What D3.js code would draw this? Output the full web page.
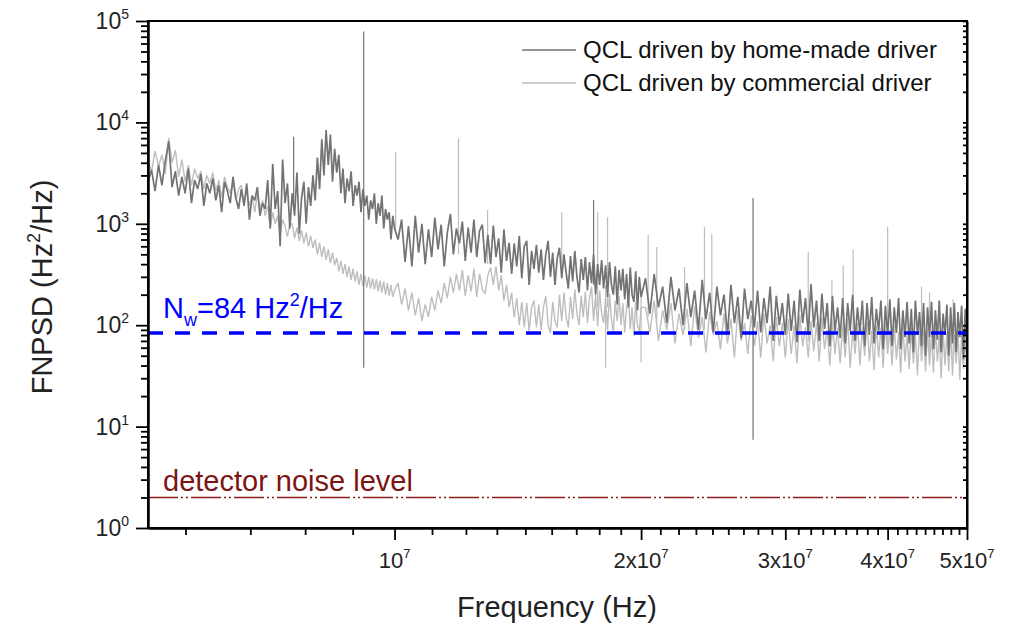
<!DOCTYPE html>
<html>
<head>
<meta charset="utf-8">
<script src="https://cdn.jsdelivr.net/npm/d3@7"></script>
<style>
  body { margin: 0; background: #fff; }
  text { font-family: "Liberation Sans", Arial, sans-serif; }
</style>
</head>
<body>
<svg id="chart" width="1009" height="628"></svg>
<script>
// ---- data ----------------------------------------------------------------
// sampling grid of the spectra (MHz)
var freqMHz = [
  5,5.05,5.1,5.15,5.2,5.25,5.3,5.35,5.4,5.45,
  5.5,5.55,5.6,5.65,5.7,5.75,5.8,5.85,5.9,5.95,
  6,6.05,6.1,6.15,6.2,6.25,6.3,6.35,6.4,6.45,
  6.5,6.55,6.6,6.65,6.7,6.75,6.8,6.85,6.9,6.95,
  7,7.05,7.1,7.15,7.2,7.25,7.3,7.35,7.4,7.45,
  7.5,7.55,7.6,7.65,7.7,7.75,7.8,7.85,7.9,7.95,
  8,8.05,8.1,8.15,8.2,8.25,8.3,8.35,8.4,8.45,
  8.5,8.55,8.6,8.65,8.7,8.75,8.8,8.85,8.9,8.95,
  9,9.05,9.1,9.15,9.2,9.25,9.3,9.35,9.4,9.45,
  9.5,9.55,9.6,9.65,9.7,9.75,9.8,9.85,9.9,9.95,
  10,
  10.1,10.2,10.3,10.4,10.5,10.6,10.7,10.8,10.9,
  11,11.1,11.2,11.3,11.4,11.5,11.6,11.7,11.8,11.9,
  12,12.1,12.2,12.3,12.4,12.5,12.6,12.7,12.8,12.9,
  13,13.1,13.2,13.3,13.4,13.5,13.6,13.7,13.8,13.9,
  14,14.1,14.2,14.3,14.4,14.5,14.6,14.7,14.8,14.9,
  15,15.1,15.2,15.3,15.4,15.5,15.6,15.7,15.8,15.9,
  16,16.1,16.2,16.3,16.4,16.5,16.6,16.7,16.8,16.9,
  17,17.1,17.2,17.3,17.4,17.5,17.6,17.7,17.8,17.9,
  18,18.1,18.2,18.3,18.4,18.5,18.6,18.7,18.8,18.9,
  19,19.1,19.2,19.3,19.4,19.5,19.6,19.7,19.8,19.9,
  20,
  20.25,20.5,20.75,21,21.25,21.5,21.75,22,22.25,22.5,
  22.75,23,23.25,23.5,23.75,24,24.25,24.5,24.75,25,
  25.25,25.5,25.75,26,26.25,26.5,26.75,27,27.25,27.5,
  27.75,28,28.25,28.5,28.75,29,29.25,29.5,29.75,30,
  30.25,30.5,30.75,31,31.25,31.5,31.75,32,32.25,32.5,
  32.75,33,33.25,33.5,33.75,34,34.25,34.5,34.75,35,
  35.25,35.5,35.75,36,36.25,36.5,36.75,37,37.25,37.5,
  37.75,38,38.25,38.5,38.75,39,39.25,39.5,39.75,40,
  40.25,40.5,40.75,41,41.25,41.5,41.75,42,42.25,42.5,
  42.75,43,43.25,43.5,43.75,44,44.25,44.5,44.75,45,
  45.25,45.5,45.75,46,46.25,46.5,46.75,47,47.25,47.5,
  47.75,48,48.25,48.5,48.75,49,49.25,49.5,49.75,50
];

// FNPSD, QCL driven by home-made driver (Hz^2/Hz)
var psdHomeMade = [
  2600,3400,2100,3800,2400,4200,6500,2300,3300,1900,
  2900,2000,3500,1600,2700,2200,3100,1500,2500,2000,
  2800,1700,2400,1300,2600,2100,1600,2900,1800,1400,
  2200,1500,2500,1100,1900,1700,2300,1200,1600,1400,
  2700,900,3900,1400,2100,600,4300,1600,2500,900,
  2000,1200,3200,800,1800,2600,1000,2300,1500,3000,
  1700,4500,2200,6800,3000,8400,3800,7600,2600,5500,
  3200,4800,2000,3500,1600,2800,2100,3300,1500,2400,
  1900,2600,1300,2200,1500,1900,1100,1700,1400,2000,
  1000,1600,1200,1900,900,1400,1100,1300,700,1200,
  900,
  700,1100,420,950,380,1200,520,1000,400,
  880,470,1150,560,980,380,820,1250,500,900,
  640,1050,430,920,520,1100,470,850,980,410,
  780,400,960,470,720,330,880,430,650,320,
  640,380,760,290,600,680,250,540,360,620,
  330,560,280,500,680,300,520,250,460,580,
  290,500,330,230,480,270,540,300,210,450,
  280,470,220,420,260,500,200,400,250,440,
  230,390,190,420,250,200,380,160,350,220,
  360,180,320,150,370,200,170,340,140,300,
  190,
  290,130,320,150,240,105,300,140,230,100,
  260,120,220,90,280,115,210,85,240,125,
  200,80,250,105,190,75,230,115,175,95,
  220,85,185,105,240,70,195,100,165,80,
  205,88,175,68,225,105,185,80,255,95,
  175,70,205,92,165,62,195,88,150,75,
  185,66,165,88,200,70,150,84,175,62,
  165,80,190,66,145,88,175,58,155,80,
  180,62,150,84,185,58,140,76,170,66,
  145,54,175,80,135,62,165,50,150,76,
  170,58,140,72,175,54,130,80,160,50,
  150,66,165,54,135,76,155,46,145,62
];

// FNPSD, QCL driven by commercial driver (Hz^2/Hz)
var psdCommercial = [
  4200,3300,5200,3700,4800,3100,7000,4000,5300,2900,
  4300,2600,3800,2400,3500,2800,3300,2200,3000,2500,
  3200,2100,2700,1800,2900,2300,2000,2600,1700,2200,
  2400,1600,2100,1500,1900,1300,2000,1400,1700,1200,
  1500,900,1300,1000,1200,800,1100,950,750,1000,
  1000,720,920,680,860,640,820,600,760,580,
  700,500,650,470,600,440,560,410,520,390,
  460,340,430,320,400,300,380,280,360,270,
  340,250,320,240,310,235,300,230,290,225,
  285,215,275,210,270,200,260,195,250,190,
  220,
  260,160,230,140,210,125,185,110,160,
  120,190,140,220,165,260,185,300,210,320,
  220,350,195,310,215,360,190,320,225,205,
  310,370,250,380,220,310,175,250,150,210,
  120,185,100,170,95,165,88,150,175,95,
  160,90,150,195,100,84,170,110,95,200,
  110,210,120,95,190,115,225,130,100,195,
  120,215,105,185,240,110,200,98,220,130,
  105,185,90,205,115,85,175,110,195,100,
  165,85,150,195,92,150,78,170,98,88,
  150,
  150,85,175,70,140,90,165,66,130,80,
  145,62,155,75,120,54,135,80,110,58,
  130,66,115,48,140,70,105,52,125,62,
  110,48,130,66,100,44,120,62,105,48,
  115,52,100,42,125,62,95,48,110,55,
  105,44,120,58,90,40,110,52,95,42,
  100,48,115,38,90,52,105,40,95,50,
  110,44,88,36,100,48,95,38,105,52,
  90,40,100,46,85,34,98,44,80,37,
  95,42,82,32,100,44,88,35,92,40,
  80,34,95,44,78,30,90,40,84,35,
  92,32,80,42,88,29,82,37,76,33
];

// narrow spurs (single-bin lines) in both spectra
var spikeFreqMHz = [7.53, 9.17, 10.03, 11.97, 12.99, 16.0, 17.5, 17.7, 18.1, 18.2, 20.0,
                    20.4, 20.9, 22.6, 23.9, 24.4, 27.4, 32.0, 34.2, 35.3, 36.3, 40.0, 44.0, 45.0, 48.1];
var spikeTop    = [7200, 79000, 5100, 7000, 1370, 1300, 1720, 1300, 250, 1160, 200,
                   780, 590, 375, 930, 800, 1800, 530, 280, 390, 560, 930, 240, 210, 180];
var spikeBottom = [1500, 38, 800, 500, 400, 300, 250, 150, 38, 150, 43,
                   120, 110, 90, 90, 90, 7.4, 70, 70, 70, 70, 60, 60, 55, 50];
var spikeDriver = ["home","home","comm","comm","comm","comm","home","comm","comm","comm","comm",
                   "comm","comm","comm","comm","comm","home","comm","comm","comm","comm","comm","comm","comm","comm"];

var xMajorTicks = [1e7, 2e7, 3e7, 4e7, 5e7];
var xMajorMantissa = ["", "2", "3", "4", "5"];
var yMajorTicks = [1, 10, 100, 1e3, 1e4, 1e5];
var yMajorExp = ["0", "1", "2", "3", "4", "5"];
var legendLabels = ["QCL driven by home-made driver", "QCL driven by commercial driver"];
var whiteNoiseLevel = 84;
var detectorNoiseLevel = 2;

// ---- layout --------------------------------------------------------------
var margin = {top: 21, right: 42, bottom: 100, left: 148};
var width = 1009 - margin.left - margin.right,
    height = 628 - margin.top - margin.bottom;

var homeColor = "#737373", commColor = "#bebebe";

var svg = d3.select("#chart");
var g = svg.append("g")
    .attr("transform", "translate(" + margin.left + "," + margin.top + ")");

var x = d3.scaleLog().domain([5e6, 5e7]).range([0, width]);
var y = d3.scaleLog().domain([1, 1e5]).range([height, 0]);

g.append("clipPath").attr("id", "plotclip")
  .append("rect").attr("width", width).attr("height", height);

var plot = g.append("g").attr("clip-path", "url(#plotclip)");

var line = d3.line()
    .x(function(d) { return x(d[0]); })
    .y(function(d) { return y(d[1]); });

function seriesPoints(vals) {
  return freqMHz.map(function(f, i) { return [f * 1e6, vals[i]]; });
}

function drawSpikes(driver, color) {
  var idx = d3.range(spikeFreqMHz.length).filter(function(i) { return spikeDriver[i] == driver; });
  plot.selectAll(".spike-" + driver)
      .data(idx)
    .enter().append("line")
      .attr("class", "spike-" + driver)
      .attr("x1", function(i) { return x(spikeFreqMHz[i] * 1e6); })
      .attr("x2", function(i) { return x(spikeFreqMHz[i] * 1e6); })
      .attr("y1", function(i) { return y(spikeTop[i]); })
      .attr("y2", function(i) { return y(spikeBottom[i]); })
      .attr("stroke", color)
      .attr("stroke-width", 1.2);
}

// commercial first, home-made on top
plot.append("path")
    .datum(seriesPoints(psdCommercial))
    .attr("d", line)
    .attr("fill", "none")
    .attr("stroke", commColor)
    .attr("stroke-width", 1.4)
    .attr("stroke-linejoin", "bevel");
drawSpikes("comm", commColor);

plot.append("path")
    .datum(seriesPoints(psdHomeMade))
    .attr("d", line)
    .attr("fill", "none")
    .attr("stroke", homeColor)
    .attr("stroke-width", 1.7)
    .attr("stroke-linejoin", "bevel");
drawSpikes("home", homeColor);

// white noise level
g.append("line")
    .attr("x1", 0).attr("x2", width)
    .attr("y1", y(whiteNoiseLevel)).attr("y2", y(whiteNoiseLevel))
    .attr("stroke", "#0000ff")
    .attr("stroke-width", 3.5)
    .attr("stroke-dasharray", "15,12");

var nw = g.append("text")
    .attr("x", 15)
    .attr("y", y(whiteNoiseLevel) - 15)
    .attr("fill", "#0000ff")
    .style("font-size", "29px");
nw.append("tspan").text("N");
nw.append("tspan").attr("dy", 8).style("font-size", "18px").text("w");
nw.append("tspan").attr("dy", -8).text("=" + whiteNoiseLevel + " Hz");
nw.append("tspan").attr("dy", -12).style("font-size", "18px").text("2");
nw.append("tspan").attr("dy", 12).text("/Hz");

// detector noise level
g.append("line")
    .attr("x1", 0).attr("x2", width)
    .attr("y1", y(detectorNoiseLevel)).attr("y2", y(detectorNoiseLevel))
    .attr("stroke", "#8b1a1a")
    .attr("stroke-width", 1.5)
    .attr("stroke-dasharray", "30,3,2,3,2,3");

g.append("text")
    .attr("x", 15)
    .attr("y", y(detectorNoiseLevel) - 6)
    .attr("fill", "#7d1414")
    .style("font-size", "29px")
    .text("detector noise level");

// ---- axes ----------------------------------------------------------------
var xMinorTicks = [];
d3.range(0, 5).forEach(function(i) {
  d3.range(1, 9).forEach(function(j) {
    var v = i * 1e7 + j * 1e7 / 9;
    if (v > 5e6 && v < 5e7) xMinorTicks.push(v);
  });
});
var yMinorTicks = [];
d3.range(0, 5).forEach(function(d) {
  d3.range(2, 10).forEach(function(m) { yMinorTicks.push(m * Math.pow(10, d)); });
});

g.append("rect")
    .attr("width", width).attr("height", height)
    .attr("fill", "none").attr("stroke", "#000").attr("stroke-width", 2);

var xAxisMinor = g.append("g")
    .attr("transform", "translate(0," + height + ")")
    .call(d3.axisBottom(x).tickValues(xMinorTicks).tickSize(7).tickSizeOuter(0).tickFormat(""));
var xAxis = g.append("g")
    .attr("transform", "translate(0," + height + ")")
    .call(d3.axisBottom(x).tickValues(xMajorTicks).tickSize(12).tickSizeOuter(0).tickFormat(""));

var yAxisMinor = g.append("g")
    .call(d3.axisLeft(y).tickValues(yMinorTicks).tickSize(7).tickSizeOuter(0).tickFormat(""));
var yAxis = g.append("g")
    .call(d3.axisLeft(y).tickValues(yMajorTicks).tickSize(12).tickSizeOuter(0).tickFormat(""));

var yRight = g.append("g")
    .attr("transform", "translate(" + width + ",0)")
    .call(d3.axisLeft(y).tickValues(yMajorTicks.concat(yMinorTicks)).tickSize(4).tickSizeOuter(0).tickFormat(""));

[xAxisMinor, xAxis, yAxisMinor, yAxis, yRight].forEach(function(a) {
  a.select(".domain").attr("stroke-width", 2);
  a.selectAll(".tick line").attr("stroke-width", 1.8);
});

// tick labels with superscripts
xMajorTicks.forEach(function(v, i) {
  var t = g.append("text")
      .attr("x", x(v))
      .attr("y", height + 40)
      .attr("text-anchor", "middle")
      .style("font-size", "22px")
      .attr("fill", "#222");
  t.append("tspan").text((xMajorMantissa[i] ? xMajorMantissa[i] + "x" : "") + "10");
  t.append("tspan").attr("dy", -10).style("font-size", "13px").text("7");
});

yMajorTicks.forEach(function(v, i) {
  var t = g.append("text")
      .attr("x", -19)
      .attr("y", y(v) + 8)
      .attr("text-anchor", "end")
      .style("font-size", "23px")
      .attr("fill", "#222");
  t.append("tspan").text("10");
  t.append("tspan").attr("dy", -10).style("font-size", "14px").text(yMajorExp[i]);
});

// axis titles
svg.append("text")
    .attr("x", 557).attr("y", 617)
    .attr("text-anchor", "middle")
    .style("font-size", "29px")
    .attr("fill", "#222")
    .text("Frequency (Hz)");

var yt = svg.append("text")
    .attr("transform", "translate(52,287) rotate(-90)")
    .attr("text-anchor", "middle")
    .style("font-size", "29px")
    .attr("fill", "#222");
yt.append("tspan").text("FNPSD (Hz");
yt.append("tspan").attr("dy", -12).style("font-size", "18px").text("2");
yt.append("tspan").attr("dy", 12).text("/Hz)");

// legend
var legend = svg.append("g");
[homeColor, commColor].forEach(function(c, i) {
  var ly = 50 + i * 33;
  legend.append("line")
      .attr("x1", 522).attr("x2", 576)
      .attr("y1", ly).attr("y2", ly)
      .attr("stroke", c).attr("stroke-width", 1.5);
  legend.append("text")
      .attr("x", 583).attr("y", ly + 8)
      .style("font-size", "24px")
      .attr("fill", "#111")
      .text(legendLabels[i]);
});
</script>
</body>
</html>
